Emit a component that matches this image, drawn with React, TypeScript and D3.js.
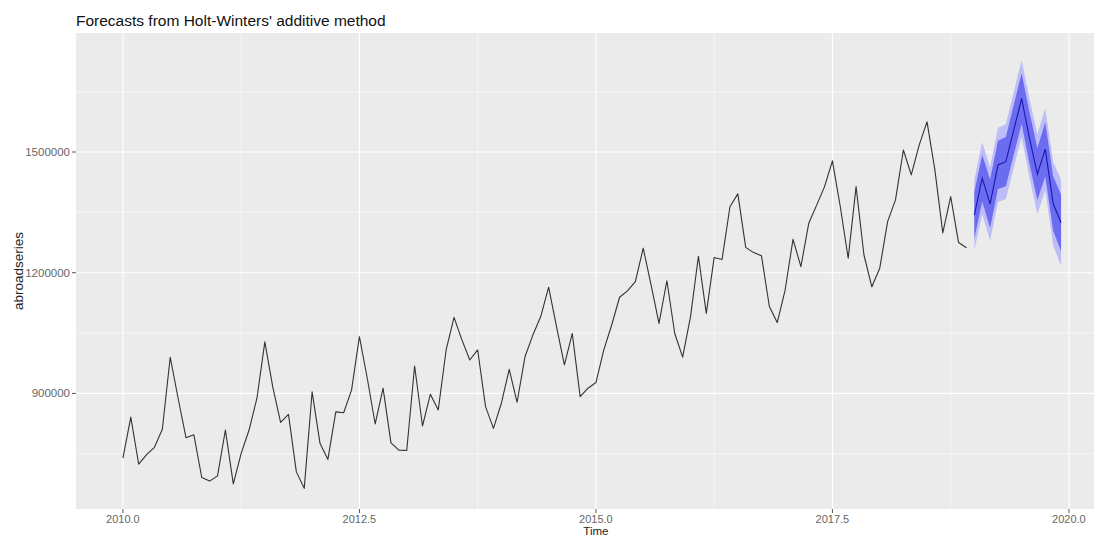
import React, { useEffect, useRef } from "react";
import * as d3 from "d3";

// monthly series, Jan 2010 .. Dec 2018
const startYear = 2010;
const abroadseries = [
  739000, 841000, 724000, 748000, 766000, 811000, 990000, 888000, 790000, 797000, 691000, 682000,
  695000, 809000, 675000, 751000, 809000, 888000, 1028000, 917000, 828000, 848000, 705000, 664000,
  904000, 776000, 736000, 854000, 852000, 908000, 1041000, 937000, 824000, 913000, 777000, 759000,
  758000, 968000, 819000, 898000, 859000, 1008000, 1089000, 1033000, 983000, 1008000, 867000, 813000,
  875000, 960000, 878000, 991000, 1045000, 1091000, 1164000, 1066000, 971000, 1049000, 892000, 913000,
  927000, 1008000, 1070000, 1139000, 1155000, 1178000, 1261000, 1169000, 1074000, 1180000, 1049000, 990000,
  1091000, 1241000, 1099000, 1238000, 1233000, 1364000, 1396000, 1263000, 1250000, 1242000, 1116000, 1076000,
  1157000, 1283000, 1215000, 1323000, 1368000, 1414000, 1478000, 1364000, 1236000, 1414000, 1244000, 1165000,
  1211000, 1327000, 1381000, 1505000, 1443000, 1517000, 1575000, 1455000, 1299000, 1389000, 1275000, 1262000,
];

// forecast, Jan 2019 .. Dec 2019
const fcStartYear = 2019;
const fcMean = [1343000, 1435000, 1371000, 1468000, 1476000, 1555000, 1633000, 1534000, 1445000, 1507000, 1372000, 1324000];
const fcLo80 = [1285000, 1377000, 1311000, 1408000, 1415000, 1493000, 1570000, 1470000, 1380000, 1440000, 1304000, 1254000];
const fcHi80 = [1401000, 1493000, 1431000, 1528000, 1537000, 1617000, 1696000, 1598000, 1510000, 1574000, 1440000, 1394000];
const fcLo95 = [1255000, 1346000, 1280000, 1376000, 1383000, 1461000, 1537000, 1436000, 1345000, 1405000, 1268000, 1217000];
const fcHi95 = [1431000, 1524000, 1462000, 1560000, 1569000, 1649000, 1729000, 1632000, 1545000, 1609000, 1476000, 1431000];

const xMajor = [2010, 2012.5, 2015, 2017.5, 2020];
const xMinor = [2011.25, 2013.75, 2016.25, 2018.75];
const yMajor = [900000, 1200000, 1500000];
const yMinor = [750000, 1050000, 1350000, 1650000];

const W = 1094, H = 538;
const panel = { left: 76, right: 1108, top: 33, bottom: 509 };
const FONT = "'Liberation Sans', Arial, sans-serif";

function draw(node) {
  const svg = d3.select(node);
  svg.selectAll("*").remove();

  const x = d3.scaleLinear().domain([2009.504, 2020.413]).range([panel.left, panel.right]);
  const y = d3.scaleLinear().domain([612700, 1795800]).range([panel.bottom, panel.top]);

  const hist = abroadseries.map((v, i) => ({ t: startYear + i / 12, v }));
  const fc = fcMean.map((v, i) => ({
    t: fcStartYear + i / 12, v,
    lo80: fcLo80[i], hi80: fcHi80[i], lo95: fcLo95[i], hi95: fcHi95[i],
  }));

  svg.append("rect").attr("width", W).attr("height", H).attr("fill", "#fff");

  // panel + grid
  svg.append("rect")
    .attr("x", panel.left).attr("y", panel.top)
    .attr("width", panel.right - panel.left).attr("height", panel.bottom - panel.top)
    .attr("fill", "#EBEBEB");

  const grid = svg.append("g").attr("stroke", "#fff");
  yMinor.forEach(v => grid.append("line").attr("x1", panel.left).attr("x2", panel.right)
    .attr("y1", y(v)).attr("y2", y(v)).attr("stroke-width", 0.55));
  xMinor.forEach(t => grid.append("line").attr("y1", panel.top).attr("y2", panel.bottom)
    .attr("x1", x(t)).attr("x2", x(t)).attr("stroke-width", 0.55));
  yMajor.forEach(v => grid.append("line").attr("x1", panel.left).attr("x2", panel.right)
    .attr("y1", y(v)).attr("y2", y(v)).attr("stroke-width", 1.1));
  xMajor.forEach(t => grid.append("line").attr("y1", panel.top).attr("y2", panel.bottom)
    .attr("x1", x(t)).attr("x2", x(t)).attr("stroke-width", 1.1));

  // forecast bands
  const band = (lo, hi) => d3.area().x(d => x(d.t)).y0(d => y(d[lo])).y1(d => y(d[hi]));
  svg.append("path").attr("d", band("lo95", "hi95")(fc)).attr("fill", "#BDBDF8");
  svg.append("path").attr("d", band("lo80", "hi80")(fc)).attr("fill", "#6C6CF0");

  const line = d3.line().x(d => x(d.t)).y(d => y(d.v));
  svg.append("path").attr("d", line(fc)).attr("fill", "none")
    .attr("stroke", "#1818B0").attr("stroke-width", 1.1);
  svg.append("path").attr("d", line(hist)).attr("fill", "none")
    .attr("stroke", "#333").attr("stroke-width", 1.1).attr("stroke-linejoin", "round");

  // axes
  const axes = svg.append("g").attr("font-family", FONT);
  yMajor.forEach(v => {
    axes.append("line").attr("x1", panel.left - 4).attr("x2", panel.left)
      .attr("y1", y(v)).attr("y2", y(v)).attr("stroke", "#555").attr("stroke-width", 1);
    axes.append("text").attr("x", panel.left - 6).attr("y", y(v)).attr("dy", "0.35em")
      .attr("text-anchor", "end").attr("font-size", 11.5).attr("fill", "#666").text(v);
  });
  xMajor.forEach(t => {
    axes.append("line").attr("x1", x(t)).attr("x2", x(t))
      .attr("y1", panel.bottom).attr("y2", panel.bottom + 4).attr("stroke", "#555").attr("stroke-width", 1);
    axes.append("text").attr("x", x(t)).attr("y", panel.bottom + 13.5)
      .attr("text-anchor", "middle").attr("font-size", 11).attr("fill", "#666").text(t.toFixed(1));
  });

  axes.append("text").attr("x", x(2015)).attr("y", 534.5).attr("text-anchor", "middle")
    .attr("font-size", 11.5).attr("fill", "#222").text("Time");
  axes.append("text").attr("transform", `translate(23,${(panel.top + panel.bottom) / 2}) rotate(-90)`)
    .attr("text-anchor", "middle").attr("font-size", 13.5).attr("fill", "#222").text("abroadseries");

  svg.append("text").attr("x", panel.left).attr("y", 26).attr("font-family", FONT)
    .attr("font-size", 15.5).attr("fill", "#111").text("Forecasts from Holt-Winters' additive method");
}

export default function App() {
  const ref = useRef(null);
  useEffect(() => { draw(ref.current); });
  return (
    <svg ref={ref} width={W} height={H}
      style={{ position: "absolute", left: 0, top: 0, display: "block" }} />
  );
}
